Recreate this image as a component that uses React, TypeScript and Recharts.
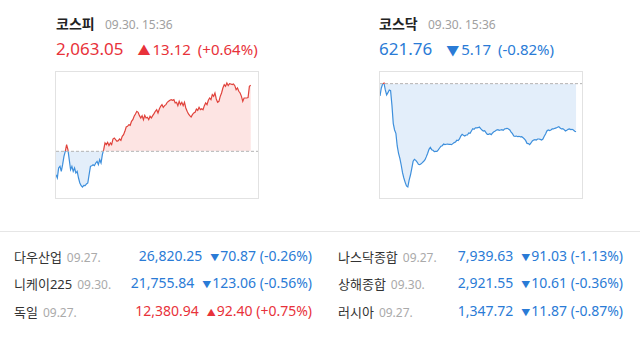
import { Area, AreaChart, ReferenceLine, XAxis, YAxis } from "recharts";

// 코스피 intraday (prev close 2,049.93)
const kospiValues = [
  2045.29, 2044.63, 2046.62, 2046.95, 2045.95, 2047.28, 2048.94, 2049.93, 2051.26, 2050.26,
  2048.27, 2046.29, 2046.95, 2045.95, 2046.62, 2045.62, 2045.95, 2044.63, 2043.64, 2043.11,
  2042.84, 2043.17, 2043.11, 2043.44, 2043.64, 2045.29, 2046.95, 2047.08, 2047.28, 2047.08,
  2047.61, 2047.94, 2047.28, 2048.27, 2047.61, 2049.27, 2050.26, 2051.59, 2051.26, 2051.72,
  2051.06, 2051.59, 2051.26, 2052.38, 2052.58, 2052.25, 2051.92, 2052.05, 2052.38, 2052.12,
  2052.91, 2053.24, 2053.91, 2054.77, 2054.9, 2055.23, 2055.1, 2055.89, 2056.22, 2056.89,
  2057.35, 2057.88, 2057.68, 2057.02, 2056.56, 2057.02, 2056.22, 2057.09, 2056.56, 2056.69,
  2056.22, 2056.89, 2056.56, 2057.02, 2057.42, 2057.88, 2058.21, 2057.55, 2058.35, 2058.88,
  2059.21, 2058.68, 2059.01, 2059.21, 2059.67, 2059.87, 2060.07, 2060.2, 2060.07, 2060.2,
  2059.54, 2059.67, 2059.01, 2059.87, 2059.21, 2059.67, 2059.01, 2059.67, 2058.54, 2057.88,
  2057.35, 2057.02, 2056.75, 2057.22, 2057.55, 2057.68, 2058.35, 2058.08, 2058.68, 2058.21,
  2058.41, 2058.21, 2059.01, 2059.54, 2059.21, 2060.07, 2060.53, 2060.2, 2061.19, 2060.86,
  2061.53, 2060.33, 2059.67, 2059.87, 2060.86, 2061.53, 2062.52, 2063.18, 2062.85, 2063.51,
  2062.98, 2063.38, 2063.31, 2063.18, 2063.31, 2062.98, 2062.19, 2062.52, 2061.86, 2061.53,
  2060.86, 2059.87, 2060.53, 2060.53, 2060.53, 2060.6, 2062.85, 2063.05,
];
const kospiBase = 2049.93;

// 코스닥 intraday (prev close 626.93)
const kosdaqValues = [
  625.6, 626.46, 626.89, 627.0, 626.25, 625.71, 625.96, 626.25, 626.18, 624.63,
  622.66, 621.94, 621.58, 620.22, 619.43, 618.89, 618.17, 617.34, 616.77, 616.3,
  615.91, 615.8, 616.55, 617.09, 617.81, 618.57, 618.78, 618.67, 618.49, 618.24,
  618.21, 618.31, 618.42, 618.57, 618.74, 619.07, 619.43, 619.86, 620.07, 619.82,
  619.75, 619.61, 619.64, 619.64, 619.79, 620.0, 620.18, 620.25, 620.43, 620.36,
  620.4, 620.43, 620.4, 620.4, 620.36, 620.47, 620.58, 620.65, 620.83, 620.79,
  620.97, 621.29, 621.47, 621.37, 621.29, 621.4, 621.4, 621.62, 621.58, 621.83,
  622.08, 622.01, 622.16, 622.16, 622.19, 622.26, 622.08, 621.94, 621.83, 621.87,
  621.65, 621.47, 621.47, 621.54, 621.44, 621.62, 621.76, 621.83, 621.94, 621.98,
  621.9, 621.94, 621.98, 621.9, 622.05, 622.08, 622.12, 622.05, 621.94, 621.72,
  621.54, 621.29, 621.26, 621.29, 621.22, 621.26, 621.19, 621.22, 621.11, 620.97,
  620.79, 620.5, 620.47, 620.36, 620.54, 620.76, 620.86, 620.9, 620.86, 620.97,
  620.97, 620.93, 620.86, 620.97, 621.26, 621.51, 621.83, 621.94, 621.87, 621.94,
  622.05, 622.05, 622.12, 622.16, 622.23, 622.3, 622.16, 622.05, 622.08, 621.98,
  621.83, 621.9, 622.01, 622.05, 621.98, 622.01, 621.94, 621.8, 621.76,
];
const kosdaqBase = 626.93;

const leftNames = ["다우산업", "니케이225", "독일"];
const leftDates = ["09.27.", "09.30.", "09.27."];
const leftValues = ["26,820.25", "21,755.84", "12,380.94"];
const leftChanges = ["70.87", "123.06", "92.40"];
const leftRates = ["-0.26%", "-0.56%", "+0.75%"];
const leftUp = [false, false, true];

const rightNames = ["나스닥종합", "상해종합", "러시아"];
const rightDates = ["09.27.", "09.30.", "09.27."];
const rightValues = ["7,939.63", "2,921.55", "1,347.72"];
const rightChanges = ["91.03", "10.61", "11.87"];
const rightRates = ["-1.13%", "-0.36%", "-0.87%"];
const rightUp = [false, false, false];

const RED = "#e8323a";
const BLUE = "#2a7bd6";
const FONT = "'Noto Sans', 'Noto Sans CJK KR', sans-serif";

function MiniChart({ id, values, base, left }: { id: string; values: number[]; base: number; left: number }) {
  const data = values.map((v, i) => ({ i, v }));
  const hi = Math.max(base, ...values);
  const lo = Math.min(base, ...values);
  const off = (hi - base) / (hi - lo);
  return (
    <div
      style={{
        position: "absolute",
        left,
        top: 71,
        width: 202,
        height: 126,
        border: "1px solid #e2e2e2",
      }}
    >
      <AreaChart width={202} height={126} data={data} margin={{ top: 11, right: 0, bottom: 11, left: 0 }}>
        <defs>
          <linearGradient id={id + "s"} x1="0" y1="0" x2="0" y2="1">
            <stop offset={0} stopColor="#e0433c" />
            <stop offset={off} stopColor="#e0433c" />
            <stop offset={off} stopColor="#3d8fdc" />
            <stop offset={1} stopColor="#3d8fdc" />
          </linearGradient>
          <linearGradient id={id + "f"} x1="0" y1="0" x2="0" y2="1">
            <stop offset={0} stopColor="#fde4e3" />
            <stop offset={off} stopColor="#fde4e3" />
            <stop offset={off} stopColor="#e3eefa" />
            <stop offset={1} stopColor="#e3eefa" />
          </linearGradient>
        </defs>
        <XAxis type="number" dataKey="i" domain={[0, 152.5]} hide />
        <YAxis type="number" domain={[lo, hi]} hide />
        <Area
          type="linear"
          dataKey="v"
          baseValue={base}
          stroke={`url(#${id}s)`}
          strokeWidth={1.2}
          fill={`url(#${id}f)`}
          fillOpacity={1}
          dot={false}
          activeDot={false}
          isAnimationActive={false}
        />
        <ReferenceLine y={base} stroke="#b3b3b3" strokeDasharray="3 2" />
      </AreaChart>
    </div>
  );
}

function Header({ left, dateLeft, title, value, change, rate, up }: any) {
  const color = up ? RED : BLUE;
  return (
    <>
      <div style={{ position: "absolute", left, top: 15, fontSize: 14, fontWeight: 700, color: "#222", lineHeight: "18px" }}>
        {title}
      </div>
      <div style={{ position: "absolute", left: dateLeft, top: 16, fontSize: 12, color: "#a0a0a0", lineHeight: "18px" }}>
        09.30. 15:36
      </div>
      <div style={{ position: "absolute", left, top: 38, fontSize: 17, color, lineHeight: "22px", whiteSpace: "nowrap" }}>
        {value}
        <span style={{ fontSize: 15, marginLeft: 14 }}>
          <span style={{ fontSize: 13, marginRight: 2 }}>{up ? "▲" : "▼"}</span>
          {change}
          <span style={{ marginLeft: 7 }}>({rate})</span>
        </span>
      </div>
    </>
  );
}

function Row({ top, left, width, name, date, value, change, rate, up }: any) {
  const color = up ? RED : BLUE;
  return (
    <div
      style={{
        position: "absolute",
        top,
        left,
        width,
        height: 20,
        lineHeight: "20px",
        display: "flex",
        justifyContent: "space-between",
        whiteSpace: "nowrap",
      }}
    >
      <div>
        <span style={{ fontSize: 13, color: "#333" }}>{name}</span>
        <span style={{ fontSize: 12, color: "#aaa", marginLeft: 5 }}>{date}</span>
      </div>
      <div style={{ fontSize: 14, color }}>
        {value}
        <span style={{ marginLeft: 8 }}>
          <span style={{ fontSize: 9, marginRight: 1 }}>{up ? "▲" : "▼"}</span>
          {change} ({rate})
        </span>
      </div>
    </div>
  );
}

function App() {
  const rowTops = [246, 273, 301];
  return (
    <div
      style={{
        position: "absolute",
        left: 0,
        top: 0,
        width: 640,
        height: 337,
        background: "#fff",
        fontFamily: FONT,
        overflow: "hidden",
      }}
    >
      <Header left={56} dateLeft={105} title="코스피" value="2,063.05" change="13.12" rate="+0.64%" up={true} />
      <Header left={379} dateLeft={428} title="코스닥" value="621.76" change="5.17" rate="-0.82%" up={false} />
      <MiniChart id="kospi" values={kospiValues} base={kospiBase} left={55} />
      <MiniChart id="kosdaq" values={kosdaqValues} base={kosdaqBase} left={379} />
      <div style={{ position: "absolute", left: 0, top: 231, width: 640, height: 1, background: "#e6e6e6" }} />
      {leftNames.map((n, k) => (
        <Row
          key={n}
          top={rowTops[k]}
          left={14}
          width={298}
          name={n}
          date={leftDates[k]}
          value={leftValues[k]}
          change={leftChanges[k]}
          rate={leftRates[k]}
          up={leftUp[k]}
        />
      ))}
      {rightNames.map((n, k) => (
        <Row
          key={n}
          top={rowTops[k]}
          left={338}
          width={285}
          name={n}
          date={rightDates[k]}
          value={rightValues[k]}
          change={rightChanges[k]}
          rate={rightRates[k]}
          up={rightUp[k]}
        />
      ))}
    </div>
  );
}

export default App;
